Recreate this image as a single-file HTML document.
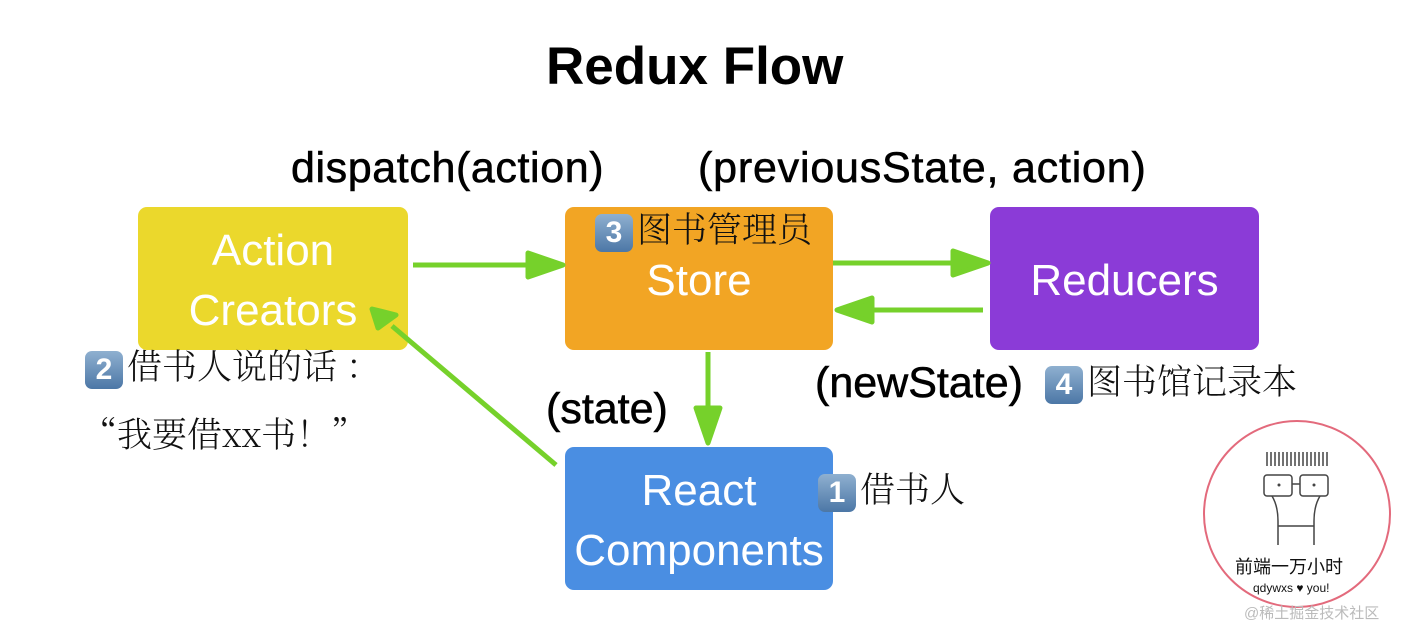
<!DOCTYPE html>
<html><head><meta charset="utf-8"><style>
body{margin:0;width:1410px;height:627px;background:#fff;position:relative;overflow:hidden;font-family:"Liberation Sans","Noto Sans CJK SC",sans-serif}
.t{position:absolute;white-space:nowrap}
.lb{position:absolute;white-space:nowrap;font-size:43px;font-weight:500;-webkit-text-stroke:0.6px #000}
.box{position:absolute;border-radius:9px;color:#fff;font-size:44px;text-align:center;display:flex;align-items:center;justify-content:center;line-height:60px;box-sizing:border-box;padding-top:5px}
.hw{position:absolute;white-space:nowrap;font-family:"Noto Serif CJK SC","Noto Sans CJK SC",sans-serif;font-size:35px;color:#111;font-weight:300}
.n{display:inline-block;width:38px;height:38px;border-radius:7px;background:linear-gradient(#8fb0d0,#4c77a6);color:#fff;font:bold 30px "Liberation Sans",sans-serif;text-align:center;line-height:38px;vertical-align:middle;margin-right:4px}
</style></head><body>
<div class="t" style="left:546px;top:36px;font-size:53px;font-weight:bold">Redux Flow</div>
<div class="lb" style="left:291px;top:144px;letter-spacing:0.6px">dispatch(action)</div>
<div class="lb" style="left:698px;top:144px;letter-spacing:0.8px">(previousState, action)</div>
<div class="lb" style="left:546px;top:385px">(state)</div>
<div class="lb" style="left:815px;top:359px">(newState)</div>
<div class="box" style="left:138px;top:207px;width:270px;height:143px;background:#ebd82c">Action<br>Creators</div>
<div class="box" style="left:565px;top:207px;width:268px;height:143px;background:#f2a524">Store</div>
<div class="box" style="left:990px;top:207px;width:269px;height:143px;background:#8b3bd7">Reducers</div>
<div class="box" style="left:565px;top:447px;width:268px;height:143px;background:#4a8ee2">React<br>Components</div>
<svg width="1410" height="627" style="position:absolute;left:0;top:0">
<g stroke="#76d12b" stroke-width="5" fill="#76d12b" stroke-linejoin="round">
<line x1="413" y1="265" x2="540" y2="265"/><polygon points="528,253 563,265 528,277"/>
<line x1="833" y1="263" x2="965" y2="263"/><polygon points="953,251 988,263 953,275"/>
<line x1="983" y1="310" x2="860" y2="310"/><polygon points="872,298 837,310 872,322"/>
<line x1="708" y1="352" x2="708" y2="420"/><polygon points="696,408 708,443 720,408"/>
<line x1="556" y1="465" x2="392" y2="326"/><polygon points="378,328 372,309 396,315"/>
</g></svg>
<div class="hw" style="left:595px;top:203px"><span class="n">3</span>图书管理员</div>
<div class="hw" style="left:85px;top:340px"><span class="n">2</span>借书人说的话 ：</div>
<div class="hw" style="left:82px;top:408px">“我要借xx书！”</div>
<div class="hw" style="left:1045px;top:355px"><span class="n">4</span>图书馆记录本</div>
<div class="hw" style="left:818px;top:463px"><span class="n">1</span>借书人</div>
<div style="position:absolute;left:1203px;top:420px;width:184px;height:184px;border:2px solid #e36a7c;border-radius:50%"></div>
<svg width="1410" height="627" style="position:absolute;left:0;top:0">
<g stroke="#444" stroke-width="1.5" fill="none">
<path d="M1267 452v14M1271 452v14M1275 452v14M1279 452v14M1283 452v14M1287 452v14M1291 452v14M1295 452v14M1299 452v14M1303 452v14M1307 452v14M1311 452v14M1315 452v14M1319 452v14M1323 452v14M1327 452v14"/>
<rect x="1264" y="475" width="28" height="21" rx="3"/><rect x="1300" y="475" width="28" height="21" rx="3"/>
<line x1="1292" y1="484" x2="1300" y2="484"/>
<path d="M1272 496q6 10 6 25v24M1320 496q-6 10-6 25v24M1278 526h36"/>
</g><circle cx="1279" cy="485" r="1.5" fill="#444"/><circle cx="1314" cy="485" r="1.5" fill="#444"/></svg>
<div class="t" style="left:1235px;top:553px;font-size:18px;color:#111">前端一万小时</div>
<div class="t" style="left:1253px;top:581px;font-size:12px;color:#111">qdywxs ♥ you!</div>
<div class="t" style="left:1244px;top:602px;font-size:15px;color:#bbb">@稀土掘金技术社区</div>
</body></html>
